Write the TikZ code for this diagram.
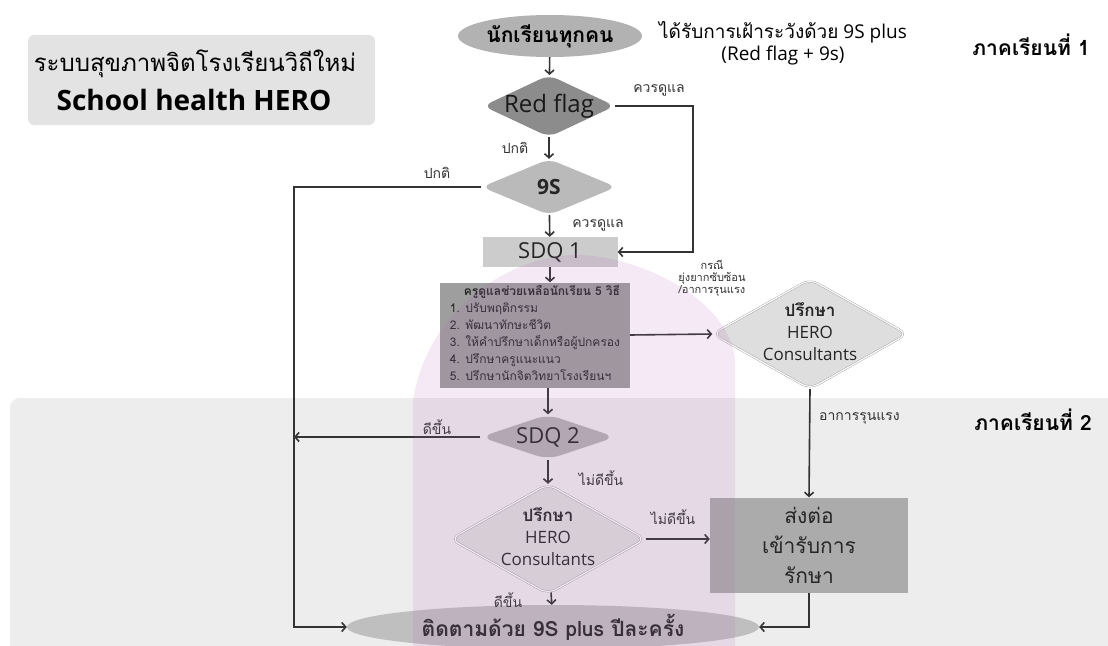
\documentclass[tikz,border=0pt]{standalone}
\usepackage{fontspec}
\setmainfont{Open Sans}
\newfontfamily\thai[Script=Thai]{Loma}
\usetikzlibrary{shapes.geometric,arrows.meta}

% 字号：\fs{大小}{行距}
\newcommand\fs[2]{\fontsize{#1}{#2}\selectfont}
% 文字不撑大菱形
\newcommand\zw[1]{\makebox[0pt]{#1}}

\begin{document}
\begin{tikzpicture}[x=1pt,y=-1pt,
  line/.style={draw=black!80,line width=1.6pt},
  arr/.style={line,-{Straight Barb[length=4pt,width=9pt]}},
  tiny/.style={font=\thai\fs{14}{16},text=black!80,inner sep=1pt},
  dia/.style={diamond,rounded corners=9pt,inner sep=0pt,text=black!85},
  hero/.style={dia,fill=black!13,draw=black!40,double=white,double distance=1.2pt,
    minimum width=195pt,minimum height=110pt}]

\useasboundingbox (0,0) rectangle (1108,645);

% 背景
\fill[white] (0,0) rectangle (1108,645);
\fill[black!7,rounded corners=10pt] (10,398) rectangle (1120,660);
\fill[black!11,rounded corners=6pt] (28,35) rectangle (375,125);

% 标题
\node[font=\thai\fs{24}{28}] (title) at (195,64) {ระบบสุขภาพจิตโรงเรียนวิถีใหม่};
\node[font=\bfseries\fs{28}{30}] (eng) at (194,100) {School health HERO};
\node[font=\thai\bfseries\fs{21}{24}] (term1) at (1031,45) {ภาคเรียนที่ 1};
\node[font=\thai\bfseries\fs{21}{24}] (term2) at (1033,420) {ภาคเรียนที่ 2};

% 主流程
\node[ellipse,fill=black!30,minimum width=184pt,minimum height=42pt,inner sep=0pt,
  font=\thai\bfseries\fs{21}{24}] (all) at (550,36) {นักเรียนทุกคน};
\node[align=center,font=\fs{19}{22}] (watch) at (783,43)
  {{\thai ได้รับการเฝ้าระวังด้วย} 9S plus\\(Red flag + 9s)};
\node[dia,fill=black!45,minimum width=132pt,minimum height=62pt,font=\fs{24}{26},
  text=black!90] (rf) at (549,106) {\zw{Red flag}};
\node[dia,fill=black!27,minimum width=135pt,minimum height=56pt,font=\bfseries\fs{21}{26}]
  (s9) at (549,187) {\zw{9S}};
\node[rectangle,fill=black!20,minimum width=135pt,minimum height=30pt,inner sep=0pt,
  font=\fs{22}{26},text=black!85] (sdq1) at (550,252) {SDQ 1};
\node[rectangle,fill=black!38,minimum width=190pt,minimum height=105pt,inner sep=0pt,
  font=\thai\fs{12}{17},text=black!85] (box) at (535,335)
  {\begin{tabular}{@{}l@{}}
   \hspace*{14pt}\textbf{ครูดูแลช่วยเหลือนักเรียน 5 วิธี}\\
   1. ปรับพฤติกรรม\\
   2. พัฒนาทักษะชีวิต\\
   3. ให้คำปรึกษาเด็กหรือผู้ปกครอง\\
   4. ปรึกษาครูแนะแนว\\
   5. ปรึกษานักจิตวิทยาโรงเรียนฯ
   \end{tabular}};
\node[hero,font=\fs{17}{22}] (c1) at (810,334)
  {\zw{\begin{tabular}{@{}c@{}}{\thai\bfseries ปรึกษา}\\HERO\\Consultants\end{tabular}}};
\node[dia,fill=black!30,rounded corners=12pt,minimum width=135pt,minimum height=45pt,
  font=\fs{22}{26}] (sdq2) at (548,437) {\zw{SDQ 2}};
\node[hero,font=\fs{17}{22}] (c2) at (548,539)
  {\zw{\begin{tabular}{@{}c@{}}{\thai\bfseries ปรึกษา}\\HERO\\Consultants\end{tabular}}};
\node[rectangle,fill=black!33,minimum width=198pt,minimum height=95pt,inner sep=0pt,
  align=center,font=\thai\fs{21}{30},text=black!85] (ref) at (809,545)
  {ส่งต่อ\\เข้ารับการ\\รักษา};
\node[ellipse,fill=black!25,minimum width=412pt,minimum height=44pt,inner sep=0pt,
  font=\thai\bfseries\fs{21}{24},text=black!85] (fol) at (553,627)
  {ติดตามด้วย 9S plus ปีละครั้ง};

% 拐点
\coordinate (rfr) at (693,252);
\coordinate (lft) at (294,0);

% 箭头
\draw[arr] (all) -- (rf);
\draw[arr] (rf) -- (s9);
\draw[arr] (s9) -- (sdq1);
\draw[arr] (sdq1.south) -- (sdq1.south |- box.north);
\draw[arr] (box.south -| sdq2) -- (sdq2);
\draw[arr] (sdq2) -- (c2);
\draw[arr] (c2) -- (fol);
\draw[arr] (rf.east) -| (rfr) -- (sdq1.east);
\draw[arr] (s9.west) -| (lft |- fol.west) -- (fol.west);
\draw[arr] (sdq2.west) -- (sdq2.west -| lft);
\draw[arr] (box.east) -- (c1.west);
\draw[arr] (c1.south) -- (ref.north);
\draw[arr] (c2.east) -- (c2.east -| ref.west);
\draw[arr] (ref.south) |- (fol.east);

% 线上的字
\node[tiny] (l1) at (659,90) {ควรดูแล};
\node[tiny] (l2) at (515,148) {ปกติ};
\node[tiny] (l3) at (437,173) {ปกติ};
\node[tiny] (l4) at (598,225) {ควรดูแล};
\node[tiny,font=\thai\fs{11}{12},align=center] (l5) at (712,278)
  {กรณี\\ยุ่งยากซับซ้อน\\/อาการรุนแรง};
\node[tiny,anchor=west] (l6) at (818,418) {อาการรุนแรง};
\node[tiny] (l7) at (437,427) {ดีขึ้น};
\node[tiny] (l8) at (601,478) {ไม่ดีขึ้น};
\node[tiny] (l9) at (673,517) {ไม่ดีขึ้น};
\node[tiny] (l10) at (508,600) {ดีขึ้น};

% 淡紫色水印
\fill[violet!60,opacity=0.14] (413,660) -- (413,400)
  .. controls (430,300) and (520,255) .. (575,255)
  .. controls (640,255) and (730,300) .. (735,360) -- (735,660) -- cycle;

\end{tikzpicture}
\end{document}
